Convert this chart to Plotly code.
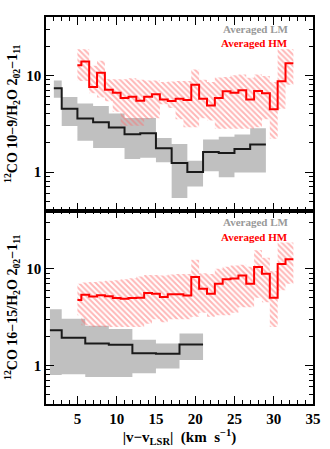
import numpy as np
import plotly.graph_objects as go
from plotly.subplots import make_subplots

# ---- low-mass (LM) averages, 10-9 panel ----
lm1_edges = [2, 3, 5, 7, 9, 11, 13, 15, 17, 19, 21, 23, 25, 27, 29]
lm1_mid = [7.35, 4.5, 3.58, 3.27, 2.89, 2.46, 2.52, 1.76, 1.24, 1.0, 1.61, 1.57, 1.73, 1.92]
lm1_hi = [8.8, 5.96, 5.1, 4.8, 4.03, 3.61, 3.61, 2.25, 1.95, 1.31, 2.17, 2.31, 2.44, 2.84]
lm1_lo = [5.87, 2.98, 2.1, 1.77, 1.77, 1.36, 1.4, 1.26, 0.54, 0.71, 1.02, 0.88, 0.99, 0.99]

# ---- high-mass (HM) averages, 10-9 panel ----
hm_edges = [5] + list(np.arange(5.5, 33, 1.0))
hm1_mid = [12.7, 13.9, 7.57, 10.6, 7.1, 6.61, 5.82, 6.0, 5.46, 6.0, 6.35, 5.63, 5.42, 5.72,
           5.55, 8.0, 5.72, 4.88, 5.82, 6.82, 6.61, 6.99, 5.63, 6.88, 6.5, 4.44, 8.67, 13.3]
hm1_hi = [18.6, 18.6, 12.5, 14.1, 9.1, 9.1, 9.1, 9.3, 9.0, 8.8, 8.8, 8.5, 8.6, 8.7,
          8.7, 11.5, 9.0, 8.5, 9.5, 9.6, 10.0, 10.2, 9.4, 10.2, 9.8, 8.5, 18.6, 18.6]
hm1_lo = [8.7, 8.7, 6.5, 5.9, 5.4, 4.2, 3.0, 3.0, 3.0, 3.5, 3.6, 5.0, 4.6, 3.5,
          2.9, 2.9, 3.6, 3.4, 2.8, 2.8, 2.8, 2.8, 2.8, 2.9, 3.5, 2.2, 4.5, 8.0]

# ---- LM averages, 16-15 panel ----
lm2_edges = [1.5, 3, 6, 9, 12, 15, 18, 21]
lm2_mid = [2.32, 1.94, 1.69, 1.64, 1.34, 1.32, 1.65]
lm2_hi = [3.82, 3.05, 2.58, 2.38, 1.85, 1.69, 2.14]
lm2_lo = [0.80, 0.81, 0.76, 0.76, 0.83, 0.93, 1.14]

# ---- HM averages, 16-15 panel ----
hm2_mid = [4.75, 5.39, 5.17, 5.32, 5.2, 4.98, 4.9, 4.98, 5.0, 5.6, 5.5, 5.1, 5.45, 5.45,
           5.3, 8.2, 6.2, 5.5, 7.0, 7.8, 7.95, 8.5, 7.0, 10.4, 8.9, 5.0, 11.2, 12.5]
hm2_hi = [7.0, 7.2, 7.3, 7.4, 7.5, 7.6, 7.8, 8.0, 8.3, 8.6, 8.6, 8.5, 8.7, 8.8,
          8.8, 12.4, 9.0, 8.8, 10.0, 10.5, 10.8, 11.0, 10.5, 15.5, 13.0, 9.5, 18.7, 18.7]
hm2_lo = [3.3, 2.6, 2.5, 2.5, 2.5, 2.5, 2.5, 2.5, 2.5, 2.7, 3.0, 2.8, 3.0, 3.0,
          3.0, 3.2, 3.5, 3.2, 3.3, 3.3, 3.5, 4.0, 4.0, 5.0, 4.5, 2.5, 6.0, 7.0]

x_ticks = [5, 10, 15, 20, 25, 30, 35]

SERIF = "Liberation Serif"
GRAY = "#c0c0c0"
HATCH = "#ff6e6e"


def step(vals):
    return list(vals) + [vals[-1]]


fig = make_subplots(rows=2, cols=1, shared_xaxes=True, vertical_spacing=0)


def add_panel(row, lm_e, lm_m, lm_h, lm_l, hm_m, hm_h, hm_l):
    # grey LM band
    fig.add_trace(go.Scatter(x=lm_e, y=step(lm_l), mode="lines", line_shape="hv",
                             line=dict(width=0, color=GRAY), showlegend=False), row=row, col=1)
    fig.add_trace(go.Scatter(x=lm_e, y=step(lm_h), mode="lines", line_shape="hv",
                             line=dict(width=0, color=GRAY), fill="tonexty",
                             fillcolor=GRAY, showlegend=False), row=row, col=1)
    # hatched HM band
    fig.add_trace(go.Scatter(x=hm_edges, y=step(hm_l), mode="lines", line_shape="hv",
                             line=dict(width=0, color=HATCH), showlegend=False), row=row, col=1)
    fig.add_trace(go.Scatter(x=hm_edges, y=step(hm_h), mode="lines", line_shape="hv",
                             line=dict(width=0, color=HATCH), fill="tonexty",
                             fillcolor="rgba(0,0,0,0)",
                             fillpattern=dict(shape="\\", fgcolor=HATCH, bgcolor="rgba(0,0,0,0)",
                                              size=4, solidity=0.5),
                             showlegend=False), row=row, col=1)
    # averaged lines
    fig.add_trace(go.Scatter(x=lm_e, y=step(lm_m), mode="lines", line_shape="hv",
                             line=dict(width=2, color="#1a1a1a"), showlegend=False), row=row, col=1)
    fig.add_trace(go.Scatter(x=hm_edges, y=step(hm_m), mode="lines", line_shape="hv",
                             line=dict(width=2, color="#ff0000"), showlegend=False), row=row, col=1)


add_panel(1, lm1_edges, lm1_mid, lm1_hi, lm1_lo, hm1_mid, hm1_hi, hm1_lo)
add_panel(2, lm2_edges, lm2_mid, lm2_hi, lm2_lo, hm2_mid, hm2_hi, hm2_lo)

y_minor = [0.4, 0.5, 0.6, 0.7, 0.8, 0.9, 2, 3, 4, 5, 6, 7, 8, 9, 20, 30, 40]
ytitles = ["<sup>12</sup>CO 10\u22129/H<sub>2</sub>O 2<sub>02</sub>\u22121<sub>11</sub>",
           "<sup>12</sup>CO 16\u221215/H<sub>2</sub>O 2<sub>02</sub>\u22121<sub>11</sub>"]

for r in (1, 2):
    fig.update_yaxes(type="log", range=[np.log10(0.4), np.log10(40)],
                     tickvals=[1, 10], ticktext=["1", "10"],
                     ticks="inside", ticklen=8, tickwidth=1.3, tickcolor="black",
                     minor=dict(tickvals=y_minor, ticks="inside", ticklen=4, tickwidth=1.1,
                                tickcolor="black"),
                     showline=True, linecolor="black", linewidth=1.6, mirror="allticks",
                     showgrid=False, zeroline=False,
                     tickfont=dict(family=SERIF, size=15, color="black", weight="bold"),
                     title=dict(text=ytitles[r - 1], standoff=5,
                                font=dict(family=SERIF, size=14, color="black", weight="bold")),
                     row=r, col=1)
    fig.update_xaxes(range=[1, 35], tickvals=x_ticks,
                     ticks="inside", ticklen=8, tickwidth=1.3, tickcolor="black",
                     minor=dict(dtick=1, tick0=0, ticks="inside", ticklen=4, tickwidth=1.1,
                                tickcolor="black"),
                     showline=True, linecolor="black", linewidth=1.6, mirror="allticks",
                     showgrid=False, zeroline=False,
                     tickfont=dict(family=SERIF, size=15, color="black", weight="bold"),
                     row=r, col=1)

fig.update_xaxes(showticklabels=False, row=1, col=1)
fig.update_xaxes(title=dict(text="|v\u2212v<sub>LSR</sub>|  (km  s<sup>\u22121</sup>)", standoff=3,
                            font=dict(family=SERIF, size=15, color="black", weight="bold")),
                 row=2, col=1)

legend_font = dict(family=SERIF, size=11, weight="bold")
for ylm, yhm in ((0.968, 0.932), (0.470, 0.4315)):
    fig.add_annotation(x=0.913, y=ylm, xref="paper", yref="paper", xanchor="right",
                       yanchor="middle", showarrow=False, text="Averaged LM",
                       font=dict(color="#999999", **legend_font))
    fig.add_annotation(x=0.913, y=yhm, xref="paper", yref="paper", xanchor="right",
                       yanchor="middle", showarrow=False, text="Averaged HM",
                       font=dict(color="#ff0000", **legend_font))

fig.update_layout(width=330, height=449, margin=dict(l=46, r=9, t=17, b=45),
                  plot_bgcolor="white", paper_bgcolor="white", showlegend=False)

fig.write_html("out.html", config={"displayModeBar": False},
               post_script="document.body.style.margin='0px';")
